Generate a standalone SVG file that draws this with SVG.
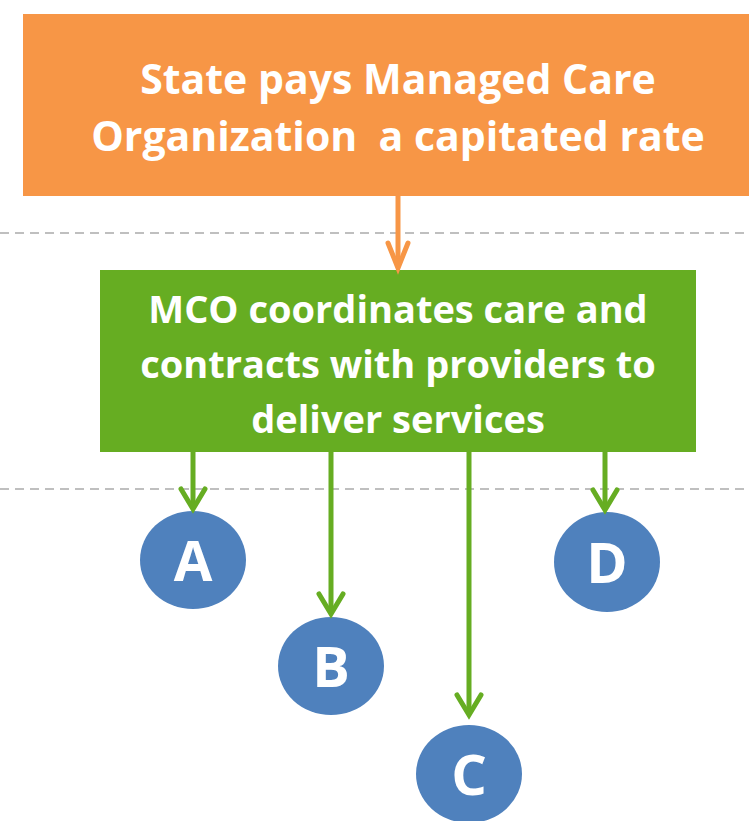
<svg xmlns="http://www.w3.org/2000/svg" width="749" height="821" viewBox="0 0 749 821">
<style>
.t{font-family:"Open Sans","Liberation Sans",sans-serif;font-weight:bold;fill:#fff;text-anchor:middle}
.h{font-size:41px}
.g{font-size:38px}
.c{font-size:56px}
.dash{stroke:#BFBFBF;stroke-width:2;stroke-dasharray:9 6;fill:none}
.ga{stroke:#66AD22;stroke-width:5;fill:none}
.gh{stroke:#66AD22;stroke-width:5;fill:none;stroke-linecap:round;stroke-linejoin:miter}
.circ{fill:#4F81BD}
</style>
<rect width="749" height="821" fill="#fff"/>
<g id="guides">
<line class="dash" x1="0" y1="233" x2="749" y2="233"/>
<line class="dash" x1="0" y1="489" x2="749" y2="489"/>
</g>
<g id="node-state">
<rect x="23" y="14" width="760" height="182" fill="#F79646"/>
<text class="t h" x="398" y="94">State pays Managed Care</text>
<text class="t h" x="398" y="151" xml:space="preserve">Organization  a capitated rate</text>
</g>
<g id="node-mco">
<rect x="100" y="270" width="596" height="182" fill="#66AD22"/>
<text class="t g" x="398" y="323">MCO coordinates care and</text>
<text class="t g" x="398" y="378">contracts with providers to</text>
<text class="t g" x="398" y="433">deliver services</text>
</g>
<g id="node-A"><ellipse class="circ" cx="193" cy="560" rx="53" ry="49"/><text class="t c" x="193" y="581">A</text></g>
<g id="node-B"><ellipse class="circ" cx="331" cy="666" rx="53" ry="49"/><text class="t c" x="331" y="687">B</text></g>
<g id="node-C"><ellipse class="circ" cx="469" cy="774" rx="53" ry="49"/><text class="t c" x="469" y="795">C</text></g>
<g id="node-D"><ellipse class="circ" cx="607" cy="562" rx="53" ry="50"/><text class="t c" x="607" y="583">D</text></g>
<g id="connectors">
<line x1="398" y1="196" x2="398" y2="264" stroke="#F79646" stroke-width="5"/>
<path d="M388 243 L398 268 L408 243" stroke="#F79646" stroke-width="5" fill="none" stroke-linecap="round"/>
<line class="ga" x1="193" y1="452" x2="193" y2="506"/>
<path class="gh" d="M181 489 L193 509 L205 489"/>
<line class="ga" x1="331" y1="452" x2="331" y2="611"/>
<path class="gh" d="M319 594 L331 614 L343 594"/>
<line class="ga" x1="469" y1="452" x2="469" y2="712"/>
<path class="gh" d="M457 695 L469 715 L481 695"/>
<line class="ga" x1="605" y1="452" x2="605" y2="507"/>
<path class="gh" d="M593 490 L605 510 L617 490"/>
</g>
</svg>
